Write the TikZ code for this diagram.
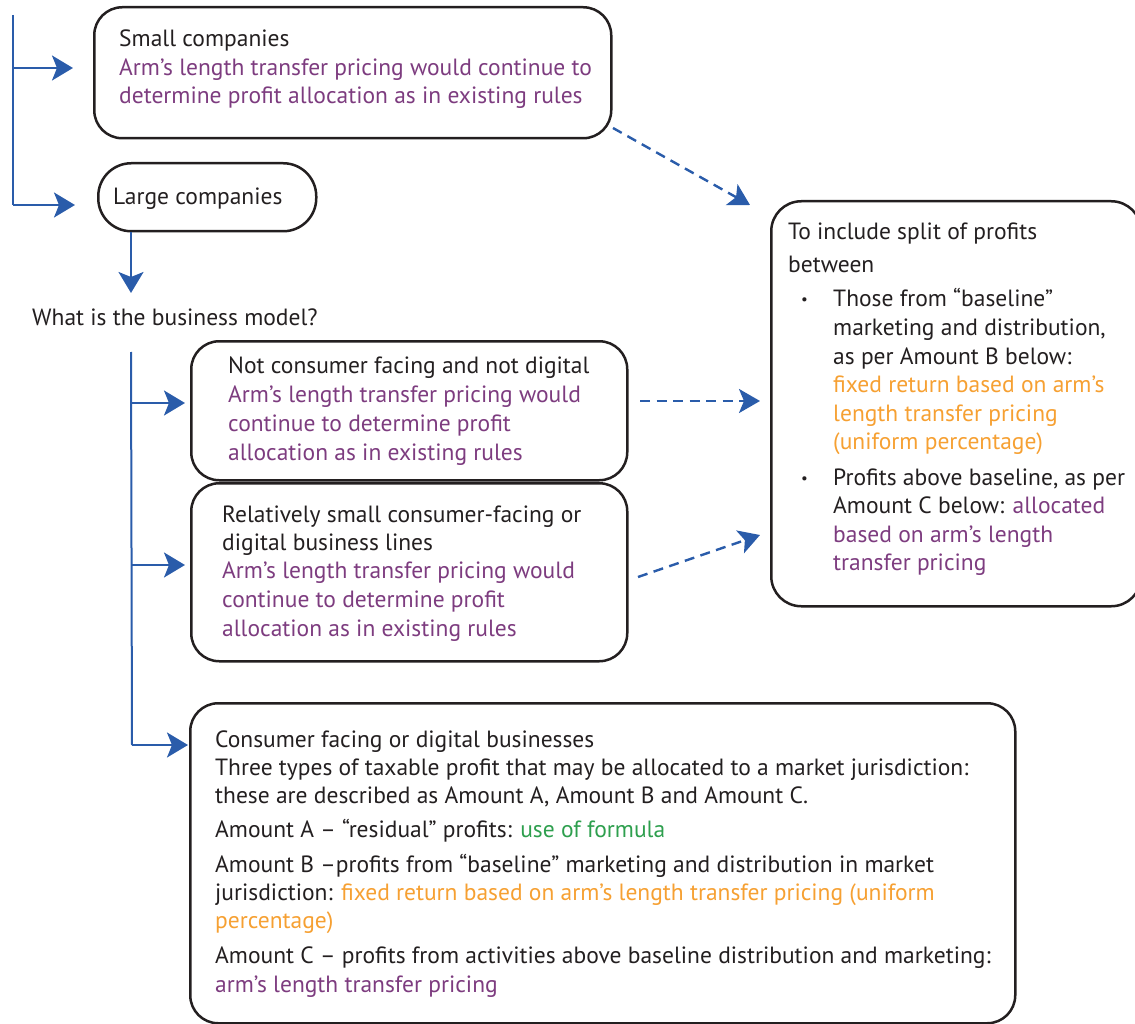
\documentclass[tikz,border=0pt]{standalone}
\usepackage{fontspec}
\setmainfont{PT Sans}
\usetikzlibrary{arrows.meta}
\definecolor{txt}{HTML}{231F20}
\definecolor{blu}{HTML}{2A5CAA}
\definecolor{pur}{HTML}{7D3C7F}
\definecolor{org}{HTML}{F6A032}
\definecolor{grn}{HTML}{2E9F4E}
\newcommand\fs{\fontsize{23.5}{28}\selectfont}
\tikzset{
  box/.style={draw=txt, line width=2.5pt, rounded corners=28pt, anchor=north west, inner sep=0pt},
  tl/.style={anchor=base west, inner sep=0pt, font=\fs, text=txt},
  bul/.style={anchor=base west, inner sep=0pt, font=\fontsize{15}{15}\selectfont, text=txt},
  arr/.style={draw=blu, line width=2pt, -{Stealth[length=21pt,width=25pt,inset=5pt]}},
  trunk/.style={draw=blu, line width=2pt},
  darr/.style={draw=blu, line width=2.4pt, dash pattern=on 10pt off 6.5pt, -{Stealth[length=21pt,width=24pt,inset=5pt]}},
}
\begin{document}
\begin{tikzpicture}[x=1pt,y=-1pt]
\useasboundingbox (0,0) rectangle (1135,1024);
\clip (0,0) rectangle (1135,1024);
% boxes
\node[box, minimum width=517pt, minimum height=131pt] (small) at (93,6) {};
\node[box, minimum width=218pt, minimum height=68pt, rounded corners=33pt] (large) at (97,162) {};
\node[box, minimum width=436pt, minimum height=139pt] (nocf) at (190,340) {};
\node[box, minimum width=436pt, minimum height=178pt] (rel) at (190,482) {};
\node[box, minimum width=825pt, minimum height=320pt] (cf) at (189,702) {};
\node[box, minimum width=370pt, minimum height=405pt, rounded corners=30pt] (right) at (770,200) {};
% texts
\node[tl] (s1) at (119,47) {Small companies};
\node[tl, text=pur] (s2) at (119,75.5) {Arm’s length transfer pricing would continue to};
\node[tl, text=pur] (s3) at (119,104) {determine profit allocation as in existing rules};
\node[tl] (lg) at (113,204.5) {Large companies};
\node[tl] (q) at (32,326) {What is the business model?};
\node[tl] (n1) at (228,373) {Not consumer facing and not digital};
\node[tl, text=pur] (n2) at (228,402) {Arm’s length transfer pricing would};
\node[tl, text=pur] (n3) at (228,431) {continue to determine profit};
\node[tl, text=pur] (n4) at (228,460) {allocation as in existing rules};
\node[tl] (r1) at (222,522) {Relatively small consumer-facing or};
\node[tl] (r2) at (222,550) {digital business lines};
\node[tl, text=pur] (r3) at (222,578.5) {Arm’s length transfer pricing would};
\node[tl, text=pur] (r4) at (222,607) {continue to determine profit};
\node[tl, text=pur] (r5) at (222,636) {allocation as in existing rules};
\node[tl] (c1) at (215,747) {Consumer facing or digital businesses};
\node[tl] (c2) at (215,775) {Three types of taxable profit that may be allocated to a market jurisdiction:};
\node[tl] (c3) at (215,803) {these are described as Amount A, Amount B and Amount C.};
\node[tl] (c4) at (215,837) {Amount A – “residual” profits: \textcolor{grn}{use of formula}};
\node[tl] (c5) at (215,872) {Amount B –profits from “baseline” marketing and distribution in market};
\node[tl] (c6) at (215,900) {jurisdiction: \textcolor{org}{fixed return based on arm’s length transfer pricing (uniform}};
\node[tl, text=org] (c7) at (215,928) {percentage)};
\node[tl] (c8) at (215,963) {Amount C – profits from activities above baseline distribution and marketing:};
\node[tl, text=pur] (c9) at (215,992) {arm’s length transfer pricing};
\node[tl] (t1) at (788,240) {To include split of profits};
\node[tl] (t2) at (788,273) {between};
\node[bul] (b1) at (801,305) {•};
\node[tl] (t3) at (833,307) {Those from “baseline”};
\node[tl] (t4) at (833,335.5) {marketing and distribution,};
\node[tl] (t5) at (833,364) {as per Amount B below:};
\node[tl, text=org] (t6) at (833,392.5) {fixed return based on arm’s};
\node[tl, text=org] (t7) at (833,421) {length transfer pricing};
\node[tl, text=org] (t8) at (833,449.5) {(uniform percentage)};
\node[bul] (b2) at (801,483) {•};
\node[tl] (t9) at (833,485) {Profits above baseline, as per};
\node[tl] (t10) at (833,513) {Amount C below: \textcolor{pur}{allocated}};
\node[tl, text=pur] (t11) at (833,542) {based on arm’s length};
\node[tl, text=pur] (t12) at (833,570) {transfer pricing};
% connectors
\coordinate (k0) at (13,15);
\coordinate (k1) at (13,68);
\coordinate (k2) at (13,205);
\coordinate (a1) at (73,68);
\coordinate (a2) at (75,205);
\draw[trunk] (k0) -- (k2);
\draw[arr] (k1) -- (a1);
\draw[arr] (k2) -- (a2);
\coordinate (d1) at (131,293);
\draw[arr] (large.south -| d1) -- (d1);
\coordinate (m0) at (131,352);
\coordinate (m1) at (131,403);
\coordinate (m2) at (131,565);
\coordinate (m3) at (132,745);
\coordinate (e1) at (185,403);
\coordinate (e2) at (185,565);
\coordinate (e3) at (188,745);
\draw[trunk] (m0) -- (m3);
\draw[arr] (m1) -- (e1);
\draw[arr] (m2) -- (e2);
\draw[arr] (m3) -- (e3);
\coordinate (f1) at (613,128);
\coordinate (g1) at (750,205);
\coordinate (f2) at (640,401);
\coordinate (g2) at (760,401);
\coordinate (f3) at (638,577);
\coordinate (g3) at (760,535);
\draw[darr] (f1) -- (g1);
\draw[darr] (f2) -- (g2);
\draw[darr] (f3) -- (g3);
\end{tikzpicture}
\end{document}
